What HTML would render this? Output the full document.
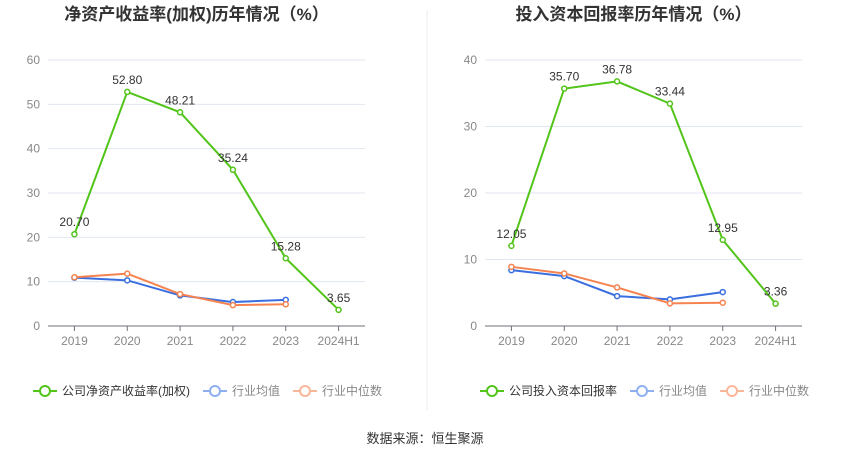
<!DOCTYPE html>
<html><head><meta charset="utf-8"><style>
body{margin:0;background:#fff;width:850px;height:459px;overflow:hidden;font-family:"Liberation Sans","Noto Sans CJK SC",sans-serif}
svg text{font-family:"Liberation Sans","Noto Sans CJK SC",sans-serif}
</style></head><body>
<svg id="s" width="850" height="459" xmlns="http://www.w3.org/2000/svg">
<line x1="427" y1="10" x2="427" y2="410" stroke="#eee"/>
<text x="425" y="443" font-size="13" fill="#333" text-anchor="middle">数据来源：恒生聚源</text>
</svg>
<script>
const categories=["2019","2020","2021","2022","2023","2024H1"];
const roeValues=[20.70,52.80,48.21,35.24,15.28,3.65];
const roeAvg=[10.9,10.3,6.9,5.4,5.9];
const roeMedian=[11.0,11.8,7.2,4.7,4.9];
const roeTicks=[0,10,20,30,40,50,60];
const roicValues=[12.05,35.70,36.78,33.44,12.95,3.36];
const roicAvg=[8.4,7.5,4.5,4.0,5.1];
const roicMedian=[8.9,7.9,5.8,3.4,3.5];
const roicTicks=[0,10,20,30,40];
const svg=document.getElementById('s');
const NS="http://www.w3.org/2000/svg";
function mk(tag,attrs,parent){const e=document.createElementNS(NS,tag);for(const k in attrs)e.setAttribute(k,attrs[k]);(parent||svg).appendChild(e);return e;}
function chart(cfg){
 const g=mk('g',{});
 
 
 const x0=cfg.x0,x1=cfg.x1,yTop=60,yBot=326,max=cfg.ticks[cfg.ticks.length-1];
 const band=(x1-x0)/categories.length;
 const xs=i=>x0+band*(i+0.5);
 const ys=v=>yBot-(v/max)*(yBot-yTop);
 const t=mk('text',{x:(x0+x1)/2-10,y:20,'font-size':17,'font-weight':'bold',fill:'#333','text-anchor':'middle'},g);
 t.textContent=cfg.title;
 
 
 cfg.ticks.forEach(v=>{
  if(v>0){const l=mk('line',{x1:x0,x2:x1,y1:ys(v),y2:ys(v),stroke:'#e0e6f1'},g);
  
  }
  const tx=mk('text',{x:x0-8,y:ys(v)+4,'font-size':12,fill:'#888','text-anchor':'end'},g);
  tx.textContent=v;
  
  
 });
 const ax=mk('line',{x1:x0,x2:x1,y1:yBot,y2:yBot,stroke:'#6e7079'},g);
 
 
 categories.forEach((c,i)=>{
  const tk=mk('line',{x1:xs(i),x2:xs(i),y1:yBot,y2:yBot+5,stroke:'#6e7079'},g);
  
  
  const tx=mk('text',{x:xs(i),y:yBot+19,'font-size':12,fill:'#888','text-anchor':'middle'},g);
  tx.textContent=c;
  
  
 });
 function series(vals,color,name,labels){
  const p=mk('polyline',{points:vals.map((v,i)=>xs(i)+','+ys(v)).join(' '),fill:'none',stroke:color,'stroke-width':2},g);
  
  
  vals.forEach((v,i)=>{
   const c=mk('circle',{cx:xs(i),cy:ys(v),r:2.5,fill:'#fff',stroke:color,'stroke-width':1.5},g);
   
   
   if(labels){const tx=mk('text',{x:xs(i),y:ys(v)-8,'font-size':12,fill:'#333','text-anchor':'middle'},g);
    tx.textContent=v.toFixed(2);
    
    }
  });
 }
 series(cfg.avg,'#3b6fe0','industry-average',false);
 series(cfg.median,'#f5834f','industry-median',false);
 series(cfg.values,'#52c41a','company',true);
 // legend
 const items=[[cfg.legend,'#52c41a','#333'],['行业均值','#8fb0f0','#888'],['行业中位数','#f9b79a','#888']];
 let lx=cfg.legendX;
 items.forEach(it=>{
  const lg=mk('g',{},g);
  
  
  mk('line',{x1:lx,x2:lx+24,y1:391,y2:391,stroke:it[1],'stroke-width':2},lg);
  mk('circle',{cx:lx+12,cy:391,r:5,fill:'#fff',stroke:it[1],'stroke-width':2},lg);
  const tx=mk('text',{x:lx+29,y:395,'font-size':12,fill:it[2]},lg);
  tx.textContent=it[0];
  lx+=29+tx.getComputedTextLength()+13;
 });
}
chart({name:'roe-chart',title:'净资产收益率(加权)历年情况（%）',x0:48,x1:365,ticks:roeTicks,values:roeValues,avg:roeAvg,median:roeMedian,legend:'公司净资产收益率(加权)',legendX:33});
chart({name:'roic-chart',title:'投入资本回报率历年情况（%）',x0:485,x1:802,ticks:roicTicks,values:roicValues,avg:roicAvg,median:roicMedian,legend:'公司投入资本回报率',legendX:480});
</script>
</body></html>
